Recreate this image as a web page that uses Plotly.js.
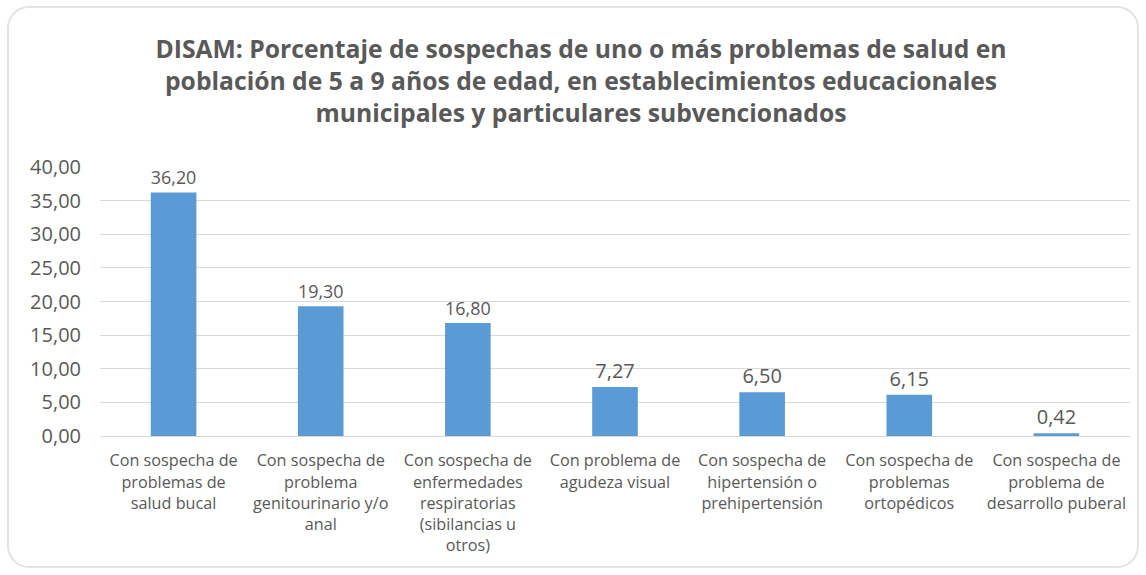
<!DOCTYPE html>
<html>
<head>
<meta charset="utf-8">
<script src="https://cdn.plot.ly/plotly-3.0.1.min.js"></script>
<style>
  html, body { margin: 0; padding: 0; background: #ffffff; }
  #wrap { position: relative; width: 1146px; height: 575px; }
  #chart { width: 1146px; height: 575px; }
  #frame { position: absolute; left: 7px; top: 6px; width: 1132px; height: 562px;
           border: 2px solid #e3e3e3; border-radius: 22px; pointer-events: none; box-sizing: border-box; }
</style>
</head>
<body>
<div id="wrap">
  <div id="chart"></div>
  <div id="frame"></div>
</div>
<script>
const categories = [
  "Con sospecha de<br>problemas de<br>salud bucal",
  "Con sospecha de<br>problema<br>genitourinario y/o<br>anal",
  "Con sospecha de<br>enfermedades<br>respiratorias<br>(sibilancias u<br>otros)",
  "Con problema de<br>agudeza visual",
  "Con sospecha de<br>hipertensión o<br>prehipertensión",
  "Con sospecha de<br>problemas<br>ortopédicos",
  "Con sospecha de<br>problema de<br>desarrollo puberal"
];
const values = [36.20, 19.30, 16.80, 7.27, 6.50, 6.15, 0.42];
const yTicks = [0, 5, 10, 15, 20, 25, 30, 35, 40];

const titleText = "DISAM: Porcentaje de sospechas de uno o más problemas de salud en<br>población de 5 a 9 años de edad, en establecimientos educacionales<br>municipales y particulares subvencionados";

const fontFamily = "'Open Sans', 'Noto Sans', sans-serif";
const textColor = "#595959";

const trace = {
  type: "bar",
  x: categories,
  y: values,
  marker: { color: "#5B9BD5" },
  text: values,
  texttemplate: "%{y:.2f}",
  textposition: "outside",
  cliponaxis: false,
  textfont: { family: fontFamily, size: 20, color: textColor },
  hoverinfo: "none"
};

const layout = {
  width: 1146,
  height: 575,
  separators: ",.",
  paper_bgcolor: "#ffffff",
  plot_bgcolor: "#ffffff",
  margin: { l: 100, r: 16, t: 167, b: 139 },
  bargap: 0.69,
  showlegend: false,
  title: {
    text: titleText,
    font: { family: fontFamily, size: 24.7, color: textColor, weight: "bold" },
    x: 0.507,
    xanchor: "center",
    xref: "container",
    yref: "container",
    y: 0.9,
    yanchor: "top"
  },
  xaxis: {
    type: "category",
    tickfont: { family: fontFamily, size: 16.2, color: textColor },
    showline: true,
    linecolor: "#d9d9d9",
    linewidth: 1,
    ticks: "",
    tickangle: 0,
    ticklabelstandoff: 10,
    automargin: false
  },
  yaxis: {
    range: [0, 40],
    tickvals: yTicks,
    tickformat: ".2f",
    tickfont: { family: fontFamily, size: 20, color: textColor },
    showgrid: true,
    gridcolor: "#d9d9d9",
    gridwidth: 1,
    zeroline: false,
    showline: false,
    ticks: "",
    ticklabelstandoff: 18,
    automargin: false
  }
};

Plotly.newPlot("chart", [trace], layout, { displayModeBar: false, staticPlot: true });
</script>
</body>
</html>
